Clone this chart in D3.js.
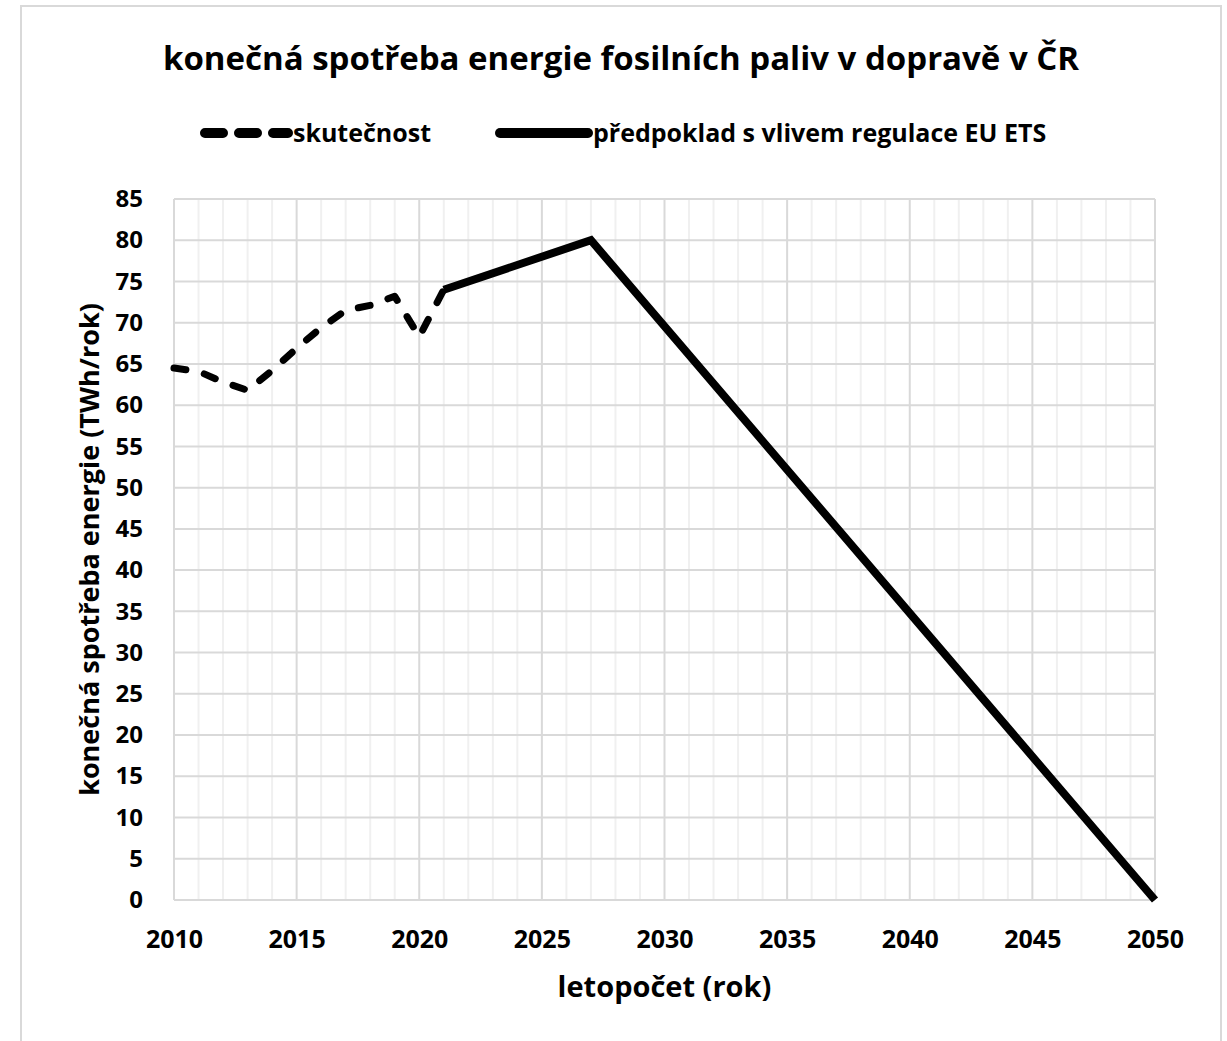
<!DOCTYPE html>
<html>
<head>
<meta charset="utf-8">
<script src="https://cdn.jsdelivr.net/npm/d3@7"></script>
<style>
  body { margin: 0; background: #fff; }
  svg { display: block; font-family: "Open Sans", Lato, sans-serif; font-weight: bold; }
</style>
</head>
<body>
<svg id="chart"></svg>
<script>
const width = 1227, height = 1041;

// data
const actualYears = [2010, 2011, 2012, 2013, 2014, 2015, 2016, 2017, 2018, 2019, 2020, 2021];
const actualValues = [64.5, 64.1, 62.8, 61.8, 64.2, 66.9, 69.4, 71.5, 72.1, 73.2, 68.3, 74.0];
const forecastYears = [2021, 2027, 2050];
const forecastValues = [74.0, 80.0, 0];
const xTicks = [2010, 2015, 2020, 2025, 2030, 2035, 2040, 2045, 2050];
const yTicks = d3.range(0, 86, 5);

const titleText = "konečná spotřeba energie fosilních paliv v dopravě v ČR";
const legendLabels = ["skutečnost", "předpoklad s vlivem regulace EU ETS"];
const xTitle = "letopočet (rok)";
const yTitle = "konečná spotřeba energie (TWh/rok)";

let margin = {top: 199, right: 72, bottom: 141, left: 174};
let plotW = width - margin.left - margin.right,
    plotH = height - margin.top - margin.bottom;

const svg = d3.select("#chart")
    .attr("width", width)
    .attr("height", height);

// outer chart frame (bottom edge is off-image)
svg.append("path")
    .attr("d", `M21,${height + 5} L21,6 L1221,6 L1221,${height + 5}`)
    .attr("fill", "none")
    .attr("stroke", "#d9d9d9")
    .attr("stroke-width", 2);

const x = d3.scaleLinear().domain([2010, 2050]).range([0, plotW]);
const y = d3.scaleLinear().domain([0, 85]).range([plotH, 0]);

const g = svg.append("g")
    .attr("transform", `translate(${margin.left},${margin.top})`);

// minor vertical grid every year
g.append("g")
    .selectAll("line")
    .data(d3.range(2011, 2050).filter(d => d % 5 !== 0))
    .join("line")
    .attr("x1", d => x(d)).attr("x2", d => x(d))
    .attr("y1", 0).attr("y2", plotH)
    .attr("stroke", "#f0f0f0")
    .attr("stroke-width", 2);

// major grid
g.append("g")
    .selectAll("line")
    .data(xTicks)
    .join("line")
    .attr("x1", d => x(d)).attr("x2", d => x(d))
    .attr("y1", 0).attr("y2", plotH)
    .attr("stroke", "#d9d9d9")
    .attr("stroke-width", 2);

g.append("g")
    .selectAll("line")
    .data(yTicks)
    .join("line")
    .attr("x1", 0).attr("x2", plotW)
    .attr("y1", d => y(d)).attr("y2", d => y(d))
    .attr("stroke", "#d9d9d9")
    .attr("stroke-width", 2);

// axes (labels only)
const xAxis = g.append("g")
    .attr("transform", `translate(0,${plotH})`)
    .call(d3.axisBottom(x).tickValues(xTicks).tickFormat(d3.format("d")).tickSize(0).tickPadding(30));
xAxis.select(".domain").remove();
xAxis.selectAll("text")
    .attr("font-size", 25).attr("font-family", "'Open Sans', sans-serif").attr("font-weight", "bold").attr("fill", "#000");

const yAxis = g.append("g")
    .call(d3.axisLeft(y).tickValues(yTicks).tickSize(0).tickPadding(31));
yAxis.select(".domain").remove();
yAxis.selectAll("text")
    .attr("font-size", 24).attr("font-family", "'Open Sans', sans-serif").attr("font-weight", "bold").attr("fill", "#000");

// lines
const actual = actualYears.map((d, i) => [d, actualValues[i]]);
const forecast = forecastYears.map((d, i) => [d, forecastValues[i]]);
const line = d3.line().x(d => x(d[0])).y(d => y(d[1]));

g.append("path")
    .datum(actual)
    .attr("d", line)
    .attr("fill", "none")
    .attr("stroke", "#000")
    .attr("stroke-width", 7)
    .attr("stroke-linecap", "round")
    .attr("stroke-linejoin", "round")
    .attr("stroke-dasharray", "12,19");

g.append("path")
    .datum(forecast)
    .attr("d", line)
    .attr("fill", "none")
    .attr("stroke", "#000")
    .attr("stroke-width", 8)
    .attr("stroke-linejoin", "miter");

// title
svg.append("text")
    .attr("x", 621).attr("y", 70)
    .attr("text-anchor", "middle")
    .attr("font-size", 33)
    .text(titleText);

// legend
const legend = svg.append("g").attr("font-size", 25);
legend.append("line")
    .attr("x1", 205).attr("x2", 288).attr("y1", 133).attr("y2", 133)
    .attr("stroke", "#000").attr("stroke-width", 10)
    .attr("stroke-linecap", "round").attr("stroke-dasharray", "18,16");
legend.append("text").attr("x", 293).attr("y", 142).text(legendLabels[0]);
legend.append("line")
    .attr("x1", 500).attr("x2", 588).attr("y1", 133).attr("y2", 133)
    .attr("stroke", "#000").attr("stroke-width", 10).attr("stroke-linecap", "round");
legend.append("text").attr("x", 593).attr("y", 142).text(legendLabels[1]);

// axis titles
svg.append("text")
    .attr("x", margin.left + plotW / 2).attr("y", 997)
    .attr("text-anchor", "middle")
    .attr("font-size", 29)
    .text(xTitle);

svg.append("text")
    .attr("transform", `translate(99,${margin.top + plotH / 2}) rotate(-90)`)
    .attr("text-anchor", "middle")
    .attr("font-size", 27)
    .text(yTitle);
</script>
</body>
</html>
